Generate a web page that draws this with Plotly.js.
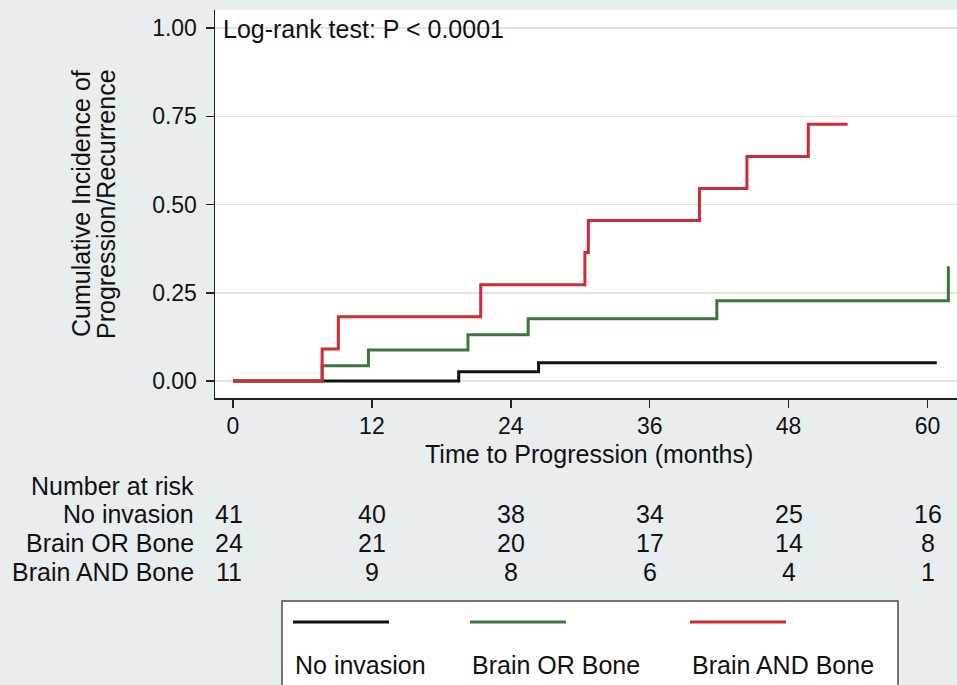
<!DOCTYPE html>
<html>
<head>
<meta charset="utf-8">
<script src="https://cdn.plot.ly/plotly-3.0.1.min.js"></script>
<style>html,body{margin:0;padding:0;background:#e8eef0;}#chart{width:957px;height:685px;}</style>
</head>
<body>
<div id="chart"></div>
<script>
// ---- data ----
const seriesNames = ["No invasion", "Brain OR Bone", "Brain AND Bone"];
const seriesColors = ["#111111", "#3b773b", "#d12a37"];

const noInvasionTime = [0, 19.5, 26.4, 60.8];
const noInvasionCI   = [0, 0.026, 0.052, 0.052];

const brainOrBoneTime = [0, 7.7, 11.7, 20.3, 25.5, 41.8, 61.8];
const brainOrBoneCI   = [0, 0.043, 0.088, 0.131, 0.176, 0.227, 0.325];

const brainAndBoneTime = [0, 7.7, 9.1, 21.4, 30.4, 30.7, 40.3, 44.4, 49.7, 53.1];
const brainAndBoneCI   = [0, 0.091, 0.182, 0.273, 0.364, 0.455, 0.545, 0.636, 0.727, 0.727];

const riskTimes = [0, 12, 24, 36, 48, 60];
const riskNoInvasion   = [41, 40, 38, 34, 25, 16];
const riskBrainOrBone  = [24, 21, 20, 17, 14, 8];
const riskBrainAndBone = [11, 9, 8, 6, 4, 1];

const xTicks = [0, 12, 24, 36, 48, 60];
const yTicks = [0, 0.25, 0.5, 0.75, 1.0];
const yTickText = ["0.00", "0.25", "0.50", "0.75", "1.00"];

// ---- layout geometry ----
const W = 957, H = 685;
const M = {l: 215, r: 0, t: 10, b: 287};
const PW = W - M.l - M.r, PH = H - M.t - M.b;
const px = v => (v - M.l) / PW;          // pixel x -> paper
const py = v => (H - M.b - v) / PH;      // pixel y -> paper
const FONT = "Liberation Sans, Arial, Helvetica, sans-serif";
const TXT = "#111111";

const times = [noInvasionTime, brainOrBoneTime, brainAndBoneTime];
const cis = [noInvasionCI, brainOrBoneCI, brainAndBoneCI];
const traces = seriesNames.map((n, i) => ({
  type: "scatter", mode: "lines", name: n,
  x: times[i], y: cis[i],
  line: {shape: "hv", color: seriesColors[i], width: 3},
  hoverinfo: "skip", showlegend: false
}));

const ann = [];
ann.push({xref: "paper", yref: "paper", x: px(221), y: py(29), xanchor: "left", yanchor: "middle",
  text: "Log-rank test: P &lt; 0.0001", showarrow: false, font: {family: FONT, size: 25, color: TXT}});
// y axis title in two lines
ann.push({xref: "paper", yref: "paper", x: px(81), y: py(204), xanchor: "center", yanchor: "middle",
  textangle: -90, text: "Cumulative Incidence of", showarrow: false, font: {family: FONT, size: 25, color: TXT}});
ann.push({xref: "paper", yref: "paper", x: px(106), y: py(204), xanchor: "center", yanchor: "middle",
  textangle: -90, text: "Progression/Recurrence", showarrow: false, font: {family: FONT, size: 25, color: TXT}});
// x axis title
ann.push({xref: "paper", yref: "paper", x: px(589), y: py(454), xanchor: "center", yanchor: "middle",
  text: "Time to Progression (months)", showarrow: false, font: {family: FONT, size: 25, color: TXT}});

// number at risk table
ann.push({xref: "paper", yref: "paper", x: px(196), y: py(486), xanchor: "right", yanchor: "middle",
  text: "Number at risk", showarrow: false, font: {family: FONT, size: 25, color: TXT}});
const riskRows = [riskNoInvasion, riskBrainOrBone, riskBrainAndBone];
const rowY = [514, 543, 572];
riskRows.forEach((row, r) => {
  ann.push({xref: "paper", yref: "paper", x: px(196), y: py(rowY[r]), xanchor: "right", yanchor: "middle",
    text: seriesNames[r], showarrow: false, font: {family: FONT, size: 25, color: TXT}});
  row.forEach((v, k) => {
    ann.push({xref: "x", yref: "paper", x: riskTimes[k], xshift: k === 0 ? -4 : 0, y: py(rowY[r]),
      xanchor: "center", yanchor: "middle", text: String(v), showarrow: false,
      font: {family: FONT, size: 25, color: TXT}});
  });
});

// legend box (samples above labels)
const shapes = [];
shapes.push({type: "rect", xref: "paper", yref: "paper", x0: px(282), x1: px(898), y0: py(601), y1: py(700),
  line: {color: "#4a4a4a", width: 1.5}, fillcolor: "#ffffff", layer: "above"});
const legX = [293, 470, 690];
seriesNames.forEach((n, i) => {
  shapes.push({type: "line", xref: "paper", yref: "paper", x0: px(legX[i]), x1: px(legX[i] + 96),
    y0: py(622), y1: py(622), line: {color: seriesColors[i], width: 3}, layer: "above"});
  ann.push({xref: "paper", yref: "paper", x: px(legX[i]), y: py(665), xanchor: "left", yanchor: "middle",
    text: n, showarrow: false, font: {family: FONT, size: 25, color: TXT}});
});

const layout = {
  width: W, height: H,
  margin: M,
  paper_bgcolor: "#e8eef0",
  plot_bgcolor: "#ffffff",
  font: {family: FONT, size: 24, color: TXT},
  showlegend: false,
  xaxis: {
    range: [(M.l - 233) / 11.575, (W - 233) / 11.575],
    tickvals: xTicks, ticktext: xTicks.map(String),
    ticks: "outside", ticklen: 8, tickwidth: 1.5, tickcolor: "#222",
    showline: true, linecolor: "#222", linewidth: 1.5,
    showgrid: false, zeroline: false,
    tickfont: {family: FONT, size: 23, color: TXT},
    ticklabelstandoff: -1,
    fixedrange: true
  },
  yaxis: {
    range: [(381 - (H - M.b)) / 353, (381 - M.t) / 353],
    tickvals: yTicks, ticktext: yTickText,
    ticks: "outside", ticklen: 8, tickwidth: 1.5, tickcolor: "#222",
    showline: true, linecolor: "#222", linewidth: 1.5,
    showgrid: true, gridcolor: "#e2e4e4", gridwidth: 1.5,
    zeroline: false,
    tickfont: {family: FONT, size: 23, color: TXT},
    ticklabelstandoff: 4,
    fixedrange: true
  },
  annotations: ann,
  shapes: shapes
};

Plotly.newPlot("chart", traces, layout, {displayModeBar: false, staticPlot: true});
</script>
</body>
</html>
